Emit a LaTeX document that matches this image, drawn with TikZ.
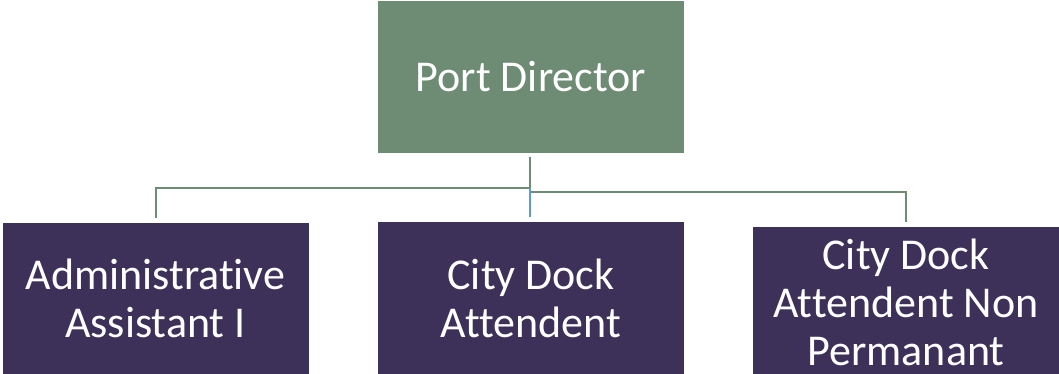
\documentclass[tikz,border=0pt]{standalone}
\usepackage{fontspec}
\setmainfont{Carlito}[Ligatures={NoCommon,NoRequired,NoContextual}]
\usetikzlibrary{calc}
\definecolor{dirgreen}{HTML}{6E8B74}
\definecolor{staffpurple}{HTML}{3E3159}
\definecolor{linkblue}{HTML}{5B9BD5}

\begin{document}
\begin{tikzpicture}[x=0.75pt, y=0.75pt,
    box/.style={fill=#1, text=white, inner sep=0pt, align=center,
        minimum width=229.5pt, minimum height=113.5pt,
        font=\fontsize{33}{36}\selectfont},
    link/.style={draw=dirgreen, line width=1.5pt}]
    % 1. Fix the page
    \useasboundingbox (0,0) rectangle (1059,374);

    % 2. The boxes
    \node[box=dirgreen] (top) at (531,297) {Port Director};
    \node[box=staffpurple] (admin) at (155.5,75.5) {Administrative\\Assistant I};
    \node[box=staffpurple] (dock) at (531,76) {City Dock\\Attendent};
    \node[box=staffpurple] (nonperm) at (906,71.5) {City Dock\\Attendent Non\\Permanant};

    % 3. Junctions under the director
    \coordinate (J) at ($(top.south)+(-1,-35)$);
    \coordinate (JR) at ($(J)+(0,-4)$);

    % 4. Connectors
    \draw[link] ([xshift=-0.75pt,yshift=-3pt]top.south) -- (J);
    \draw[link] (J) -| ([yshift=3.75pt]admin.north);
    \draw[link] (JR) -| ([yshift=3.75pt]nonperm.north);
    \draw[link, draw=linkblue] (J) -- ([xshift=-0.75pt,yshift=3.75pt]dock.north);

\end{tikzpicture}
\end{document}
